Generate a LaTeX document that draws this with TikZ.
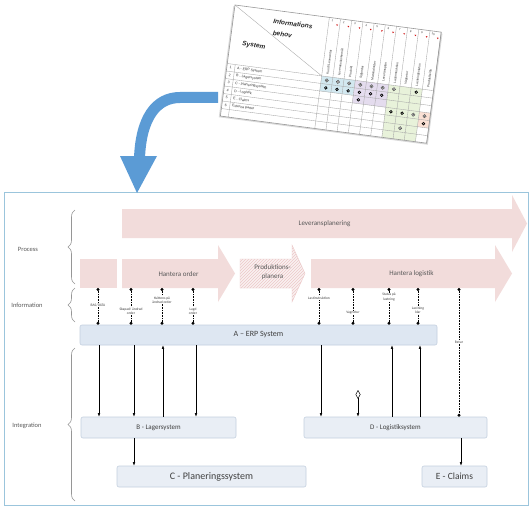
\documentclass[tikz,border=0pt]{standalone}
\usepackage{fontspec}
\setmainfont{Carlito}
\newfontfamily\tabfont{Liberation Sans}
\usetikzlibrary{arrows.meta,decorations.pathreplacing,patterns,calc}
\definecolor{pinkfill}{RGB}{242,220,219}
\definecolor{hatchpink}{RGB}{236,200,200}
\definecolor{blueArrow}{RGB}{91,155,213}
\definecolor{frameblue}{RGB}{155,197,220}
\definecolor{txtgray}{RGB}{89,89,89}
\definecolor{txtdark}{RGB}{64,64,64}
\definecolor{boxfill}{RGB}{233,238,245}
\definecolor{boxdraw}{RGB}{196,208,223}
\definecolor{erpfill}{RGB}{222,231,242}
\definecolor{bracegray}{RGB}{150,150,150}
\definecolor{tblue}{RGB}{210,232,240}
\definecolor{tpurple}{RGB}{228,220,238}
\definecolor{tgreen}{RGB}{232,242,218}
\definecolor{torange}{RGB}{250,224,212}
\newcommand{\tdotfull}[1]{\draw[line width=0.4pt, draw=gray!60!black, fill=gray!45] #1 circle (1.7); \fill[black!70] #1 circle (0.6);}
\newcommand{\tdotring}[1]{\draw[line width=0.7pt, draw=black] #1 circle (1.3);}
\begin{document}
\begin{tikzpicture}[x=1pt,y=-1pt,
  lbl/.style={font=\fontsize{6.5}{7.5}\selectfont, text=txtgray},
  proctxt/.style={font=\fontsize{7}{8.5}\selectfont, text=txtgray, align=center},
  sysbox/.style={draw=boxdraw, fill=boxfill, rounded corners=2pt, line width=0.6pt, inner sep=0pt, text=txtdark},
  infoline/.style={dash pattern=on 0.8pt off 0.8pt, line width=0.6pt, {Circle[length=3pt]}-{Circle[length=3pt]}},
  infolab/.style={font=\fontsize{3.6}{4.2}\selectfont, fill=white, inner sep=0.6pt, align=center, text=txtdark},
  intarrow/.style={line width=0.5pt, -{Latex[length=3.5pt,width=2.6pt]}},
  bracestyle/.style={decorate, decoration={brace, amplitude=7pt}, draw=bracegray, line width=0.6pt},
  tgrid/.style={draw=gray!70, line width=0.35pt},
  tnum/.style={font=\tabfont\fontsize{2.8}{3}\selectfont, inner sep=0pt, text=black!80},
  tcol/.style={font=\tabfont\fontsize{3.2}{3.5}\selectfont, inner sep=0.3pt, text=black!80},
  trow/.style={font=\tabfont\fontsize{3.5}{4}\selectfont, inner sep=0.3pt, text=black!80},
  thead/.style={font=\tabfont\bfseries\itshape\fontsize{6.5}{8}\selectfont, inner sep=0pt, text=black!85},
]
\useasboundingbox (0,0) rectangle (532,508);
\fill[white] (0,0) rectangle (532,508);

% frame
\draw[frameblue, line width=0.8pt] (4,192) rectangle (528,505);

% process arrows
\fill[pinkfill] (122,209) -- (512,209) -- (512,195) -- (527,223.5) -- (512,252) -- (512,238) -- (122,238) -- cycle;
\node[proctxt] (lev) at (324.5,224) {Leveransplanering};
\fill[pinkfill] (80,259) rectangle (117,288);
\fill[pinkfill] (122,259) -- (218,259) -- (218,245) -- (235,273.5) -- (218,302) -- (218,288) -- (122,288) -- cycle;
\node[proctxt] (ho) at (178.5,274) {Hantera order};
\fill[white!60!pinkfill] (240,259) -- (292,259) -- (292,245) -- (305,273.5) -- (292,302) -- (292,288) -- (240,288) -- cycle;
\fill[pattern=north east lines, pattern color=hatchpink] (240,259) -- (292,259) -- (292,245) -- (305,273.5) -- (292,302) -- (292,288) -- (240,288) -- cycle;
\draw[hatchpink, line width=0.4pt] (240,259) -- (292,259) -- (292,245) -- (305,273.5) -- (292,302) -- (292,288) -- (240,288) -- cycle;
\node[proctxt] (pp) at (272.5,272) {Produktions-\\planera};
\fill[pinkfill] (311,259) -- (495,259) -- (495,245) -- (512,273.5) -- (495,302) -- (495,288) -- (311,288) -- cycle;
\node[proctxt] (hl) at (411.5,274) {Hantera logistik};

% left labels and braces
\node[lbl] (lproc) at (28,249) {Process};
\node[lbl] (linfo) at (27,305) {Information};
\node[lbl] (lint) at (27,426) {Integration};
\draw[bracestyle] (75,284) -- (75,210);
\draw[bracestyle] (75,322) -- (75,288);
\draw[bracestyle] (75,501) -- (75,348);

% system boxes
\node[sysbox, fill=erpfill, minimum width=357pt, minimum height=20pt, font=\fontsize{8}{9}\selectfont] (erp) at (258.5,335) {A -- ERP System};
\node[sysbox, minimum width=155pt, minimum height=21pt, font=\fontsize{7}{8}\selectfont] (b) at (158.5,427.5) {B - Lagersystem};
\node[sysbox, minimum width=183pt, minimum height=21pt, font=\fontsize{7}{8}\selectfont] (d) at (395.5,427.5) {D - Logistiksystem};
\node[sysbox, minimum width=189pt, minimum height=21pt, font=\fontsize{10}{11}\selectfont] (c) at (211.5,476.5) {C - Planeringssystem};
\node[sysbox, minimum width=65pt, minimum height=21pt, font=\fontsize{9.5}{10.5}\selectfont] (e) at (454.5,476.5) {E - Claims};

% information connectors
\foreach \n/\x in {1/98,2/131,3/162,4/193,5/319,6/353,7/389,8/418} {
  \coordinate (t\n) at (\x,288);
}
\foreach \n in {1,...,8} {
  \draw[infoline] (t\n) -- (t\n |- erp.north);
}
\coordinate (t9) at (459,288);
\draw[infoline] (t9) -- (t9 |- d.north);
\node[infolab] (il1) at (98,305) {BAS/DATA};
\node[infolab] (il2) at (131,311) {Skapad/ ändrad\\order};
\node[infolab] (il3) at (162,300) {Kvittens på\\ändrad order};
\node[infolab] (il4) at (193,311) {Lagd\\order};
\node[infolab] (il5) at (319,298) {Lastinstruktion};
\node[infolab] (il6) at (353,313) {Vagnetur};
\node[infolab] (il7) at (389,297) {Status på\\lastning};
\node[infolab] (il8) at (418,310) {Lastning\\klar};
\node[infolab] (il9) at (459,342) {Retur};

% integration arrows
\coordinate (g1) at (99,0);
\coordinate (g2) at (134,0);
\coordinate (g3) at (163,0);
\coordinate (g4) at (196,0);
\coordinate (g5) at (321,0);
\coordinate (g7) at (392,0);
\coordinate (g8) at (420,0);
\coordinate (g9) at (461,0);
\draw[intarrow] (g1 |- erp.south) -- (g1 |- b.north);
\draw[intarrow] (g2 |- erp.south) -- (g2 |- b.north);
\draw[intarrow] (g2 |- b.south) -- (g2 |- c.north);
\draw[intarrow] (g3 |- b.north) -- (g3 |- erp.south);
\draw[intarrow] (g4 |- erp.south) -- (g4 |- b.north);
\draw[intarrow] (g5 |- erp.south) -- (g5 |- d.north);
\coordinate (dm) at (358,390);
\draw[line width=0.5pt, {Diamond[open,length=9pt,width=5pt]}-{Latex[length=3.5pt,width=2.6pt]}] (dm) -- (dm |- d.north);
\draw[intarrow] (g7 |- d.north) -- (g7 |- erp.south);
\draw[intarrow] (g8 |- d.north) -- (g8 |- erp.south);
\draw[intarrow] (g9 |- d.south) -- (g9 |- e.north);

% blue curved arrow
\draw[blueArrow, line width=11pt] (218,97.5) -- (180,97.5) .. controls (156,97.5) and (141,118) .. (139.5,158);
\fill[blueArrow] (120,156) -- (157,156) -- (137,193) -- cycle;

% tilted table
\begin{scope}[shift={(235,5)}, rotate=-7.5, transform shape]
  \fill[black!15] (-1.4,1.4) rectangle (209.4,113.4);
  \fill[white] (0,0) rectangle (208,112);
  \fill[tblue] (95.2,59) rectangle (129.04,74.14);
  \fill[tpurple] (129.04,59) rectangle (162.88,81.71);
  \fill[tgreen] (162.88,59) rectangle (196.72,112);
  \fill[torange] (196.72,81.71) rectangle (208,96.85);
  \foreach \k in {0,...,10} {
    \draw[tgrid] ({95.2+11.28*\k},0) -- ({95.2+11.28*\k},112);
  }
  \foreach \k in {0,...,6} {
    \draw[tgrid] (0,{59+7.57*\k}) -- (208,{59+7.57*\k});
  }
  \draw[tgrid] (8,59) -- (8,112);
  \draw[tgrid] (0,0) -- (95.2,59);
  \draw[draw=gray!80, line width=0.6pt] (0,0) rectangle (208,112);
  \foreach \i in {1,...,10} {
    \node[tnum] (hn\i) at ({95.2+11.28*(\i-0.5)-2},3) {\i};
    \fill[red!80!black] ({95.2+11.28*\i-3.5},6) -- ++(1.8,0) -- ++(-0.9,1.4) -- cycle;
  }
  \foreach \t [count=\i] in {Kund/ Leverantör, Leveransönskemål, Produkt, Säljorder, Materialorder, Leveransplan, Lastinstruktion, Vagnetur, Lastningsstatus, Produktkvitto} {
    \node[tcol, rotate=90, anchor=west] (hc\i) at ({95.2+11.28*(\i-0.5)},57) {\t};
  }
  \foreach \t [count=\j] in {A - ERP System, B - Lagersystem, C - Planeringsystem, D - Logistik, E - Claims, Externa parter} {
    \node[trow] (rn\j) at (4,{59+7.57*(\j-0.5)}) {\j};
    \node[trow, anchor=west] (rl\j) at (10,{59+7.57*(\j-0.5)}) {\t};
  }
  \node[thead, anchor=west] (hinfo) at (40,11) {Informations};
  \node[thead, anchor=west] (hbeh) at (41,23) {behov};
  \node[thead] (hsys) at (24,38) {System};
  \foreach \i in {1,...,7} {
    \tdotfull{({95.2+11.28*(\i-0.5)},62.79)}
  }
  \tdotring{(191.08,62.79)}
  \foreach \i in {1,...,6} {
    \tdotring{({95.2+11.28*(\i-0.5)},70.36)}
  }
  \tdotring{(134.68,77.93)}
  \tdotring{(168.52,85.5)}
  \tdotring{(179.8,85.5)}
  \tdotfull{(191.08,85.5)}
  \tdotfull{(202.36,85.5)}
  \tdotring{(202.36,93.07)}
  \tdotfull{(179.8,100.64)}
\end{scope}
\end{tikzpicture}
\end{document}
